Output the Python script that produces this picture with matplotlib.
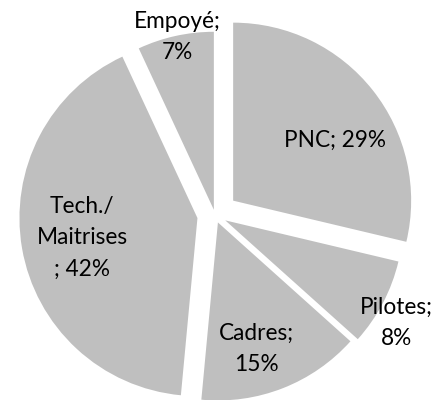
import matplotlib
matplotlib.use("Agg")
import matplotlib.pyplot as plt

# ---- data (clockwise from 12 o'clock) ----
categories = ["PNC", "Pilotes", "Cadres", "Tech./\nMaitrises", "Empoyé"]
values = [29, 8, 15, 42, 7]
separators = ["; ", ";\n", ";\n", "\n; ", ";\n"]

# ---- layout ----
explode = [0.13, 0.065, 0.045, 0.10, 0.03]
label_pos = [(0.763, 0.650), (0.904, 0.192), (0.585, 0.127),
             (0.187, 0.405), (0.405, 0.907)]
gray = "#BFBFBF"

plt.rcParams['font.family'] = ['Lato', 'DejaVu Sans']

fig = plt.figure(figsize=(4.39, 4.0), dpi=100)
ax = fig.add_axes([0, 0, 1, 1])
ax.pie(values, explode=explode, colors=[gray] * len(values),
       startangle=90, counterclock=False, radius=1.0,
       wedgeprops={'linewidth': 0})
ax.set_xlim(-215 / 178, (439 - 215) / 178)
ax.set_ylim(-(400 - 215) / 178, 215 / 178)
ax.set_aspect('auto')
ax.axis('off')

for name, sep, v, (x, y) in zip(categories, separators, values, label_pos):
    ax.text(x, y, f"{name}{sep}{v}%", transform=ax.transAxes,
            ha='center', va='center', fontsize=16.3, linespacing=1.62,
            color='black')

fig.savefig("out.png", dpi=100)
